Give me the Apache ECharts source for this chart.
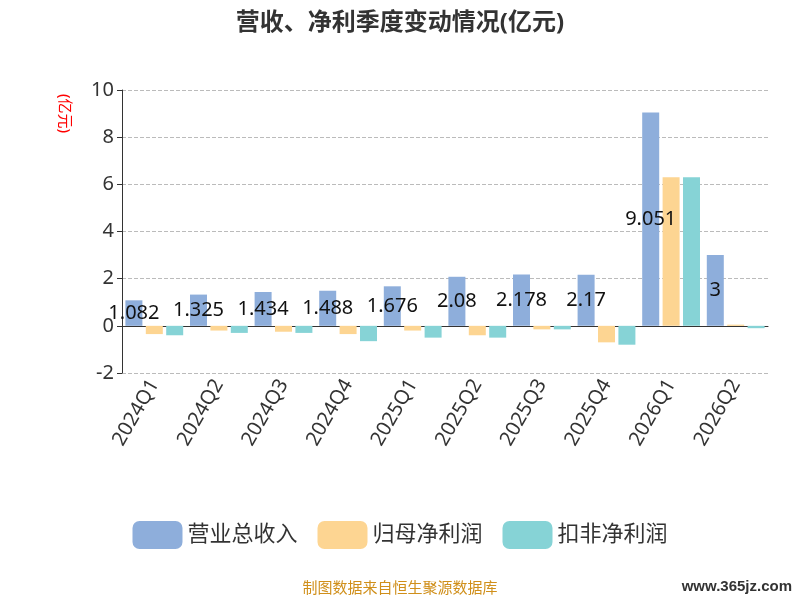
<!DOCTYPE html>
<html><head><meta charset="utf-8">
<script src="https://cdn.jsdelivr.net/npm/echarts@6/dist/echarts.min.js"></script>
<style>body{margin:0}#c{width:800px;height:600px}</style></head>
<body><div id="c"></div>
<script>
var categories=['2024Q1','2024Q2','2024Q3','2024Q4','2025Q1','2025Q2','2025Q3','2025Q4','2026Q1','2026Q2'];
var revenue=[1.082,1.325,1.434,1.488,1.676,2.08,2.178,2.17,9.051,3];
var netProfit=[-0.35,-0.2,-0.25,-0.35,-0.2,-0.4,-0.15,-0.7,6.3,0.05];
var deducted=[-0.4,-0.3,-0.3,-0.65,-0.5,-0.5,-0.15,-0.8,6.3,-0.1];
var F='"Noto Sans","Noto Sans CJK SC",sans-serif';
var c=echarts.init(document.getElementById('c'));
c.setOption({
textStyle:{fontFamily:F},
title:{text:'营收、净利季度变动情况(亿元)',left:'center',top:6,textStyle:{fontSize:24,fontWeight:'bold',color:'#333',fontFamily:F}},
grid:{left:122,right:32,top:90,bottom:227},
legend:{bottom:46,itemWidth:50,itemHeight:28,itemGap:20,textStyle:{fontSize:22,color:'#333',fontFamily:F},data:['营业总收入','归母净利润','扣非净利润']},
xAxis:{type:'category',data:categories,axisLabel:{rotate:60,fontSize:20,color:'#333',fontFamily:F},axisLine:{lineStyle:{color:'#333'}},axisTick:{lineStyle:{color:'#333'}}},
yAxis:{type:'value',min:-2,max:10,interval:2,
axisLine:{show:true,lineStyle:{color:'#333'}},axisTick:{show:true},axisLabel:{fontSize:20,color:'#333',fontFamily:F},
splitLine:{lineStyle:{type:'dashed',color:'#bbb'}}},
series:[
{name:'营业总收入',type:'bar',data:revenue,barWidth:17,barGap:'20%',itemStyle:{color:'#8eaedb'},label:{show:true,position:'inside',fontSize:20,color:'#111',fontFamily:F}},
{name:'归母净利润',type:'bar',data:netProfit,barWidth:17,itemStyle:{color:'#fdd592'}},
{name:'扣非净利润',type:'bar',data:deducted,barWidth:17,itemStyle:{color:'#86d3d6'}}
],
graphic:[
{type:'text',x:72,y:94,rotation:-Math.PI/2,originX:0,originY:0,style:{text:'(亿元)',fill:'red',fontSize:15,fontFamily:F}},
{type:'text',left:'center',bottom:4,style:{text:'制图数据来自恒生聚源数据库',fill:'#d08f1a',fontSize:15,fontFamily:F}},
{type:'text',right:8,bottom:6,style:{text:'www.365jz.com',fill:'#333',fontSize:15,fontWeight:'bold'}}
]
});
</script></body></html>
